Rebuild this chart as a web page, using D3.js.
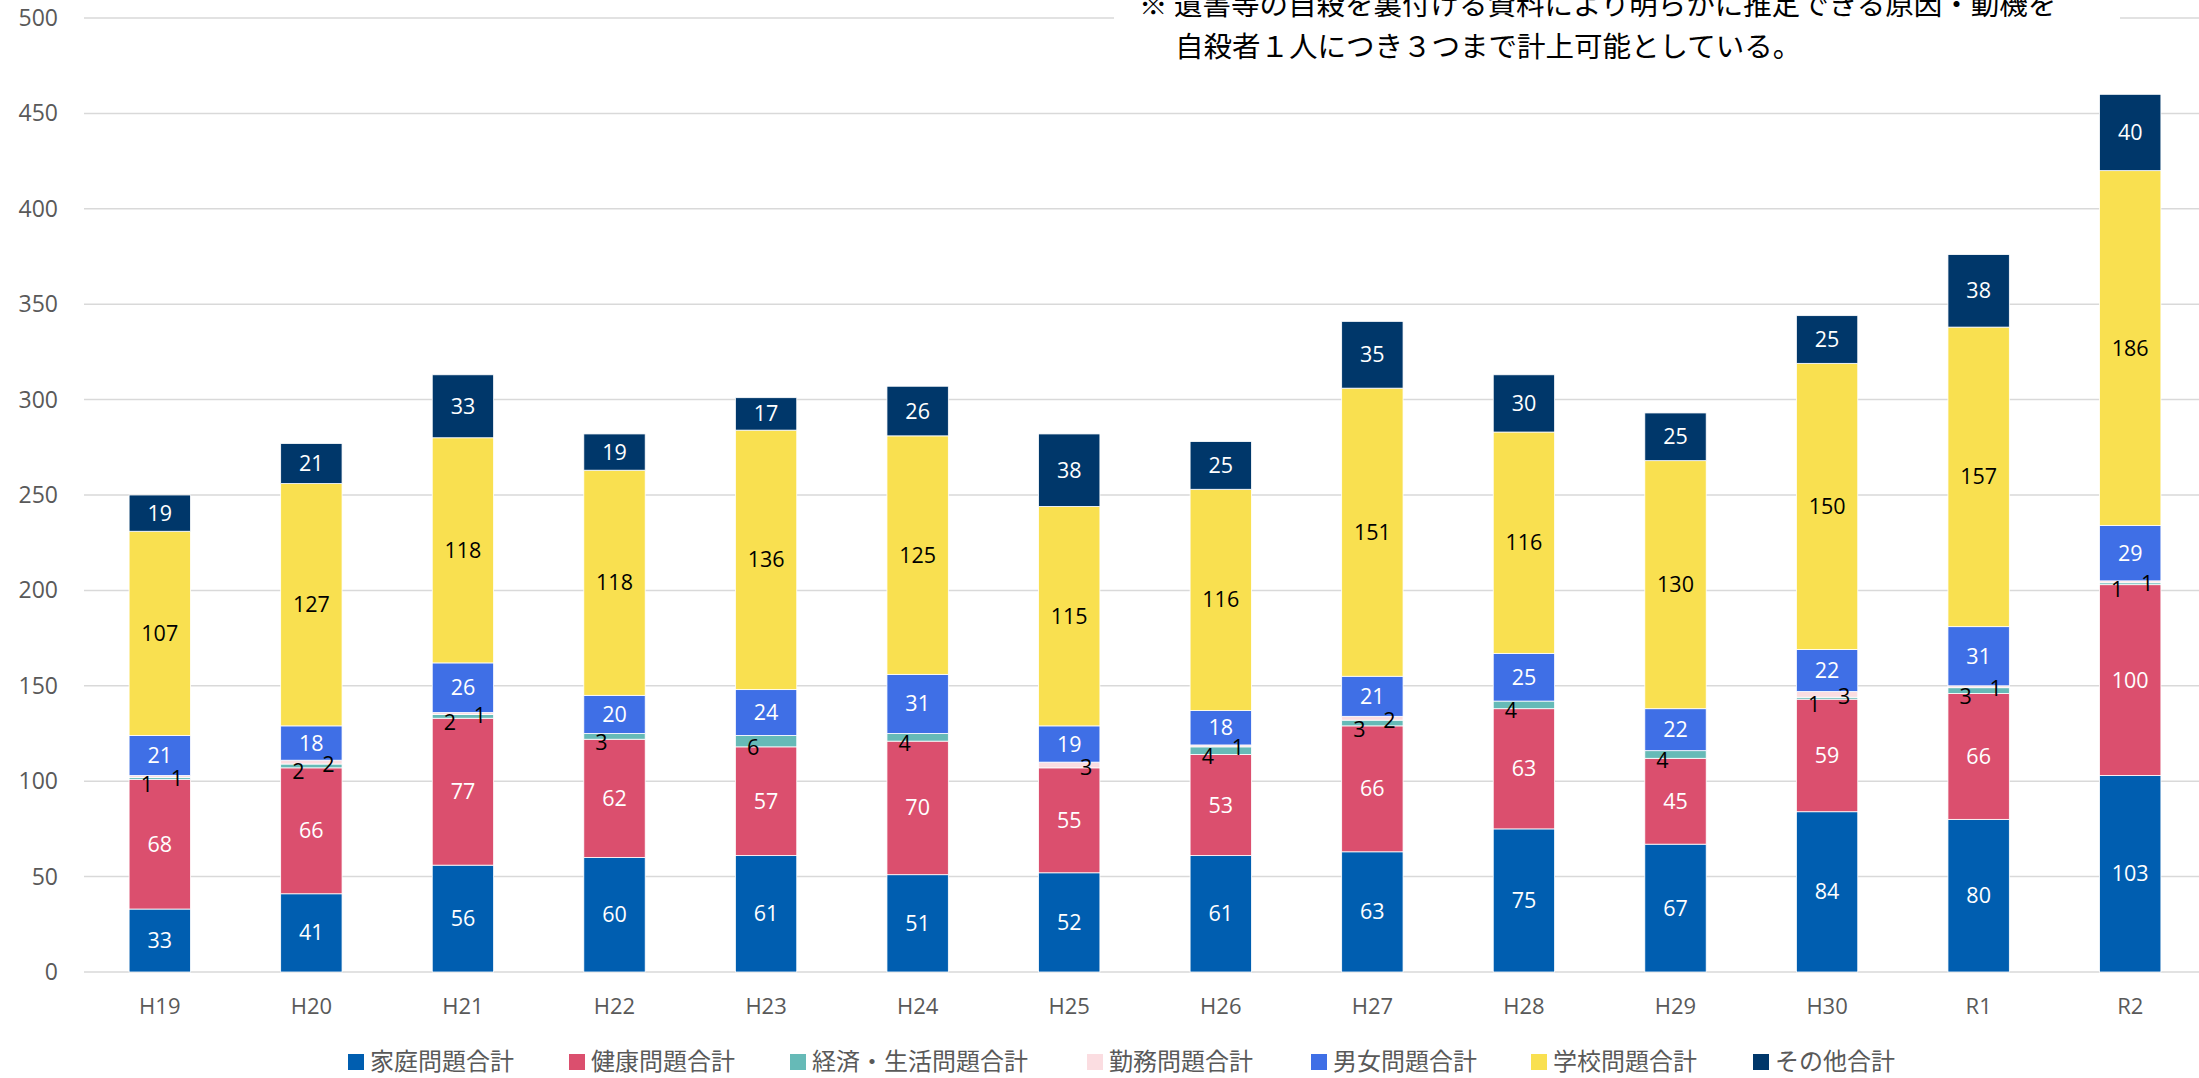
<!DOCTYPE html>
<html>
<head>
<meta charset="utf-8">
<script src="https://cdn.jsdelivr.net/npm/d3@7"></script>
<style>
  body { margin: 0; background: #fff; }
  text { font-family: "Open Sans", "Noto Sans CJK JP", sans-serif; }
</style>
</head>
<body>
<div id="svganchor"></div>
<script>
// 原因・動機別 stacked bar chart

const years = ["H19","H20","H21","H22","H23","H24","H25","H26","H27","H28","H29","H30","R1","R2"];
const seriesNames = ["家庭問題合計","健康問題合計","経済・生活問題合計","勤務問題合計","男女問題合計","学校問題合計","その他合計"];
const family  = [33, 41, 56, 60, 61, 51, 52, 61, 63, 75, 67, 84, 80, 103];
const health  = [68, 66, 77, 62, 57, 70, 55, 53, 66, 63, 45, 59, 66, 100];
const economy = [1, 2, 2, 3, 6, 4, 0, 4, 3, 4, 4, 1, 3, 1];
const work    = [1, 2, 1, 0, 0, 0, 3, 1, 2, 0, 0, 3, 1, 1];
const gender  = [21, 18, 26, 20, 24, 31, 19, 18, 21, 25, 22, 22, 31, 29];
const school  = [107, 127, 118, 118, 136, 125, 115, 116, 151, 116, 130, 150, 157, 186];
const other   = [19, 21, 33, 19, 17, 26, 38, 25, 35, 30, 25, 25, 38, 40];
const yTicks = [0, 50, 100, 150, 200, 250, 300, 350, 400, 450, 500];
const noteLines = ["※ 遺書等の自殺を裏付ける資料により明らかに推定できる原因・動機を", "自殺者１人につき３つまで計上可能としている。"];

const colors = ["#005EB0", "#DB4F6E", "#66BAB7", "#FBDDE1", "#3F6FE6", "#F9E050", "#00376A"];
const labelColors = ["#fff", "#fff", "#000", "#000", "#fff", "#000", "#fff"];
// small segments get their labels nudged left / right like the original
const labelDx = [0, 0, -13, 17, 0, 0, 0];
const labelDy = [0, 0, 6, 2, 0, 0, 0];

let W = 2199;
let H = 1078;

let seriesValues = [family, health, economy, work, gender, school, other];
let rows = years.map((y, i) => {
    let r = { year: y };
    seriesNames.forEach((s, k) => { r[s] = seriesValues[k][i]; });
    return r;
});
let stacked = d3.stack().keys(seriesNames)(rows);

let x = d3.scaleBand()
    .domain(years)
    .range([84, 2206])
    .paddingInner(0.595)
    .paddingOuter(0.2975)
;

let y = d3.scaleLinear()
    .domain([0, 500])
    .range([972, 18])
;

let svg = d3.select("#svganchor")
    .append("svg")
    .attr("width", W)
    .attr("height", H)
;

// gridlines
svg.append("g")
    .selectAll("line")
    .data(yTicks)
    .enter()
    .append("line")
    .attr("x1", 84)
    .attr("x2", W)
    .attr("y1", d => y(d))
    .attr("y2", d => y(d))
    .attr("stroke", "#D9D9D9")
    .attr("stroke-width", 1.5)
;

// y tick labels
svg.append("g")
    .selectAll("text")
    .data(yTicks)
    .enter()
    .append("text")
    .attr("x", 58)
    .attr("y", d => y(d))
    .attr("dy", "0.35em")
    .attr("text-anchor", "end")
    .attr("font-size", 23)
    .attr("fill", "#595959")
    .text(d => d)
;

// x axis labels
let xAxis = svg.append("g")
    .attr("transform", "translate(0, 972)")
    .call(d3.axisBottom(x).tickSize(0).tickPadding(26));
xAxis.select(".domain").remove();
xAxis.selectAll("text")
    .attr("font-size", 22)
    .attr("fill", "#595959")
    .style("font-family", "'Open Sans', 'Noto Sans CJK JP', sans-serif")
;

// bars
let layers = svg.append("g")
    .selectAll("g")
    .data(stacked)
    .enter()
    .append("g")
    .attr("fill", (d, i) => colors[i])
;

layers.selectAll("rect")
    .data(d => d)
    .enter()
    .append("rect")
    .attr("x", d => x(d.data.year))
    .attr("width", x.bandwidth())
    .attr("y", d => y(d[1]))
    .attr("height", d => y(d[0]) - y(d[1]))
    .attr("stroke", "#fff")
    .attr("stroke-width", 0.8)
;

// data labels
stacked.forEach((layer, k) => {
    svg.append("g")
        .selectAll("text")
        .data(layer.filter(d => d[1] - d[0] > 0))
        .enter()
        .append("text")
        .attr("x", d => x(d.data.year) + x.bandwidth() / 2 + labelDx[k])
        .attr("y", d => y((d[0] + d[1]) / 2) + labelDy[k])
        .attr("dy", "0.35em")
        .attr("text-anchor", "middle")
        .attr("font-size", 21.5)
        .attr("fill", labelColors[k])
        .text(d => d[1] - d[0])
    ;
});

// note box
svg.append("rect")
    .attr("x", 1114)
    .attr("y", 0)
    .attr("width", 1006)
    .attr("height", 66)
    .attr("fill", "#fff")
;
svg.append("g")
    .selectAll("text")
    .data(noteLines)
    .enter()
    .append("text")
    .attr("x", (d, i) => i === 0 ? 1139 : 1175)
    .attr("y", (d, i) => 5 + i * 42)
    .attr("dy", "0.35em")
    .attr("font-size", 28.5)
    .attr("fill", "#000")
    .style("font-family", "'Noto Sans CJK JP', sans-serif")
    .text(d => d)
;

// legend
const legendX = [348, 569, 790, 1087, 1311, 1531, 1753];
let legend = svg.append("g")
    .selectAll("g")
    .data(seriesNames)
    .enter()
    .append("g")
    .attr("transform", (d, i) => "translate(" + legendX[i] + ", 1062)")
;
legend.append("rect")
    .attr("x", 0)
    .attr("y", -8)
    .attr("width", 16)
    .attr("height", 16)
    .attr("fill", (d, i) => colors[i])
;
legend.append("text")
    .attr("x", 22)
    .attr("y", 0)
    .attr("dy", "0.35em")
    .attr("font-size", 24)
    .attr("fill", "#595959")
    .style("font-family", "'Noto Sans CJK JP', sans-serif")
    .text(d => d)
;
</script>
</body>
</html>
